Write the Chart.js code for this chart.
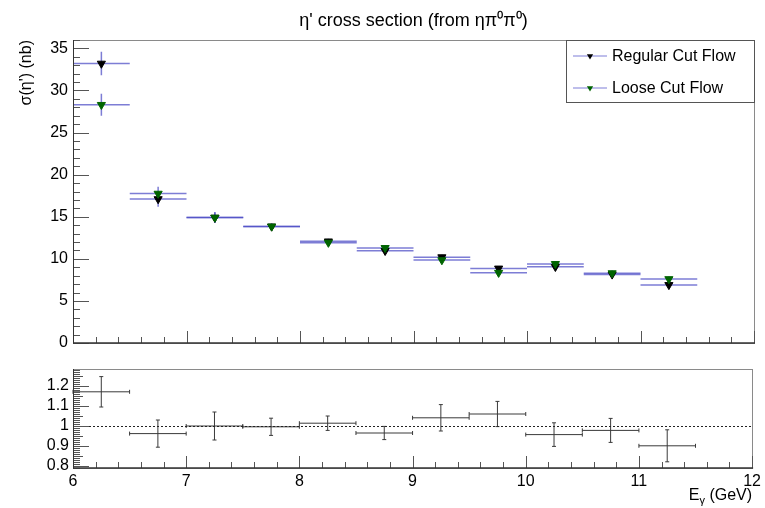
<!DOCTYPE html>
<html>
<head>
<meta charset="utf-8">
<script src="https://cdn.jsdelivr.net/npm/chart.js@4.4.1/dist/chart.umd.min.js"></script>
<style>
  body { margin: 0; background: #fff; }
  #wrap { position: relative; width: 765px; height: 508px; }
  canvas { position: absolute; left: 0; }
</style>
</head>
<body>
<div id="wrap">
  <canvas id="top" width="765" height="355" style="top:0"></canvas>
  <canvas id="bottom" width="765" height="153" style="top:355px"></canvas>
</div>
<script>
// ---------- DATA ----------
const binCenters = [6.25, 6.75, 7.25, 7.75, 8.25, 8.75, 9.25, 9.75, 10.25, 10.75, 11.25];
const binHalfWidth = 0.25;

const regularXsec = [33.2, 17.1, 14.9, 13.85, 12.08, 10.95, 10.2, 8.86, 9.05, 8.15, 6.9];
const regularErr  = [1.4, 0.9, 0.65, 0.35, 0.3, 0.3, 0.3, 0.3, 0.3, 0.3, 0.3];
const looseXsec   = [28.3, 17.75, 14.9, 13.85, 11.92, 11.3, 9.85, 8.35, 9.4, 8.3, 7.6];
const looseErr    = [1.3, 0.8, 0.6, 0.35, 0.3, 0.3, 0.3, 0.3, 0.3, 0.3, 0.3];

const ratio    = [1.171, 0.962, 1.0, 0.996, 1.014, 0.965, 1.041, 1.06, 0.957, 0.978, 0.901];
const ratioErr = [0.076, 0.068, 0.07, 0.043, 0.036, 0.033, 0.066, 0.063, 0.059, 0.06, 0.08];

const seriesLabels = ["Regular Cut Flow", "Loose Cut Flow"];
const plotTitle = "η' cross section (from ηπ⁰π⁰)";
const yTitleTop = "σ(η') (nb)";

const FONT = "'Liberation Sans', Arial, Helvetica, sans-serif";
Chart.defaults.font.family = FONT;
Chart.defaults.color = "#000";

function pts(y) {
  return binCenters.map((x, i) => ({ x: x, y: y[i] }));
}

// ---------- PLUGINS ----------
// x / y error bars drawn through the chart scales
const errorBars = {
  id: "errorBars",
  beforeDatasetsDraw(chart) {
    const ctx = chart.ctx, xs = chart.scales.x, ys = chart.scales.y;
    chart.data.datasets.forEach(ds => {
      if (!ds.yErr) return;
      ctx.save();
      ctx.strokeStyle = ds.errColor;
      ctx.lineWidth = ds.errWidth;
      ds.data.forEach((p, i) => {
        const x0 = xs.getPixelForValue(p.x - ds.xErr);
        const x1 = xs.getPixelForValue(p.x + ds.xErr);
        const xc = xs.getPixelForValue(p.x);
        const yc = ys.getPixelForValue(p.y);
        const y0 = ys.getPixelForValue(p.y - ds.yErr[i]);
        const y1 = ys.getPixelForValue(p.y + ds.yErr[i]);
        ctx.beginPath();
        ctx.moveTo(x0, yc); ctx.lineTo(x1, yc);
        ctx.moveTo(xc, y0); ctx.lineTo(xc, y1);
        if (ds.errCap) {
          const c = ds.errCap;
          ctx.moveTo(x0, yc - c); ctx.lineTo(x0, yc + c);
          ctx.moveTo(x1, yc - c); ctx.lineTo(x1, yc + c);
          ctx.moveTo(xc - c, y0); ctx.lineTo(xc + c, y0);
          ctx.moveTo(xc - c, y1); ctx.lineTo(xc + c, y1);
        }
        ctx.stroke();
      });
      ctx.restore();
    });
  }
};

// ROOT-like frame with inward ticks
const rootFrame = {
  id: "rootFrame",
  beforeDatasetsDraw(chart, args, o) {
    const ctx = chart.ctx, a = chart.chartArea;
    const x = chart.scales.x, y = chart.scales.y;
    ctx.save();
    if (o.refLine !== undefined) {
      const yy = Math.round(y.getPixelForValue(o.refLine)) + 0.5;
      ctx.strokeStyle = "#222";
      ctx.lineWidth = 1;
      ctx.setLineDash([2, 2]);
      ctx.beginPath();
      ctx.moveTo(a.left, yy); ctx.lineTo(a.right, yy);
      ctx.stroke();
      ctx.setLineDash([]);
    }
    ctx.strokeStyle = "#8a8a8a";
    ctx.lineWidth = 1;
    ctx.strokeRect(Math.round(a.left) + 0.5, Math.round(a.top) + 0.5,
                   Math.round(a.right - a.left), Math.round(a.bottom - a.top));

    ctx.strokeStyle = "#555";
    ctx.beginPath();
    // y ticks
    const n0 = Math.ceil(y.min / o.yMinor - 1e-6), n1 = Math.floor(y.max / o.yMinor + 1e-6);
    for (let n = n0; n <= n1; n++) {
      const v = n * o.yMinor;
      const r = v / o.yMajor;
      const major = Math.abs(r - Math.round(r)) < 1e-6;
      const mid = o.yMid && Math.abs(v / o.yMid - Math.round(v / o.yMid)) < 1e-6;
      const len = major ? 16 : (mid ? 10 : 7);
      const py = Math.round(y.getPixelForValue(v)) + 0.5;
      ctx.moveTo(a.left, py); ctx.lineTo(a.left + len, py);
    }
    // x ticks
    const m0 = Math.ceil(x.min / o.xMinor - 1e-6), m1 = Math.floor(x.max / o.xMinor + 1e-6);
    for (let n = m0; n <= m1; n++) {
      const v = n * o.xMinor;
      const r = v / o.xMajor;
      const major = Math.abs(r - Math.round(r)) < 1e-6;
      const len = major ? 12 : 6;
      const px = Math.round(x.getPixelForValue(v)) + 0.5;
      ctx.moveTo(px, a.bottom); ctx.lineTo(px, a.bottom - len);
    }
    ctx.stroke();

    ctx.strokeStyle = "#333";
    ctx.beginPath();
    ctx.moveTo(Math.round(a.left) + 0.5, a.top); ctx.lineTo(Math.round(a.left) + 0.5, a.bottom);
    ctx.stroke();
    ctx.lineWidth = 1.6;
    ctx.beginPath();
    ctx.moveTo(a.left, Math.round(a.bottom)); ctx.lineTo(a.right + 1, Math.round(a.bottom));
    ctx.stroke();
    ctx.restore();
  }
};

// axis titles (ROOT puts them at the far end of the axis)
const axisTitles = {
  id: "axisTitles",
  afterDraw(chart, args, o) {
    const ctx = chart.ctx, a = chart.chartArea;
    ctx.save();
    ctx.fillStyle = "#000";
    if (o.yText) {
      ctx.translate(o.yPos, a.top);
      ctx.rotate(-Math.PI / 2);
      ctx.font = "16px " + FONT;
      ctx.textAlign = "right";
      ctx.textBaseline = "middle";
      ctx.fillText(o.yText, 0, 0);
    }
    if (o.xMain) {
      ctx.textBaseline = "alphabetic";
      ctx.textAlign = "left";
      ctx.font = "16px " + FONT;
      const wMain = ctx.measureText(o.xMain).width;
      const wRest = ctx.measureText(o.xRest).width;
      ctx.font = "11px " + FONT;
      const wSub = ctx.measureText(o.xSub).width;
      let px = a.right - wMain - wSub - wRest;
      const base = o.xBase;
      ctx.font = "16px " + FONT;
      ctx.fillText(o.xMain, px, base);
      px += wMain;
      ctx.font = "11px " + FONT;
      ctx.fillText(o.xSub, px, base + 4);
      px += wSub;
      ctx.font = "16px " + FONT;
      ctx.fillText(o.xRest, px, base);
    }
    ctx.restore();
  }
};

// boxed legend in the top right corner of the frame
const boxLegend = {
  id: "boxLegend",
  afterDraw(chart, args, o) {
    const ctx = chart.ctx, a = chart.chartArea;
    const left = a.right - o.width, top = a.top;
    ctx.save();
    ctx.fillStyle = "#fff";
    ctx.fillRect(left, top, o.width, o.height);
    ctx.strokeStyle = "#555";
    ctx.lineWidth = 1;
    ctx.strokeRect(Math.round(left) + 0.5, Math.round(top) + 0.5, Math.round(o.width), Math.round(o.height));
    chart.data.datasets.forEach((ds, i) => {
      const yy = top + o.firstRow + i * o.rowGap;
      ctx.strokeStyle = "rgba(110,110,210,0.6)";
      ctx.lineWidth = 1.5;
      ctx.beginPath();
      ctx.moveTo(left + 7, yy); ctx.lineTo(left + 41, yy);
      ctx.stroke();
      ctx.fillStyle = ds.backgroundColor;
      ctx.strokeStyle = ds.borderColor;
      ctx.lineWidth = 1;
      Chart.helpers.drawPoint(ctx, { pointStyle: "triangle", rotation: 180, radius: 3.6 }, left + 24, yy);
      ctx.fillStyle = "#000";
      ctx.font = "16px " + FONT;
      ctx.textBaseline = "middle";
      ctx.textAlign = "left";
      ctx.fillText(ds.label, left + 46, yy + 1);
    });
    ctx.restore();
  }
};

const noGrid = { display: false, drawTicks: false };
// keep tick-label overflow from shrinking the frame
const fixY = w => s => { s.width = w; s.paddingTop = 0; s.paddingBottom = 0; };

// ---------- TOP PANEL ----------
new Chart(document.getElementById("top"), {
  type: "scatter",
  data: {
    datasets: [
      {
        label: seriesLabels[0],
        data: pts(regularXsec),
        xErr: binHalfWidth,
        yErr: regularErr,
        errColor: "rgba(70,70,195,0.7)",
        errWidth: 1.5,
        pointStyle: "triangle",
        rotation: 180,
        pointRadius: 4.7,
        backgroundColor: "#000",
        borderColor: "#000",
        borderWidth: 1,
        order: 1
      },
      {
        label: seriesLabels[1],
        data: pts(looseXsec),
        xErr: binHalfWidth,
        yErr: looseErr,
        errColor: "rgba(70,70,195,0.7)",
        errWidth: 1.5,
        pointStyle: "triangle",
        rotation: 180,
        pointRadius: 4.7,
        backgroundColor: "#006400",
        borderColor: "#006400",
        borderWidth: 1,
        order: 0
      }
    ]
  },
  options: {
    responsive: false,
    animation: false,
    devicePixelRatio: 1,
    layout: { padding: { left: 0, right: 11, top: 0, bottom: 0 } },
    scales: {
      x: {
        type: "linear", min: 6, max: 12,
        grid: noGrid, border: { display: false },
        ticks: { display: false },
        afterFit: s => { s.height = 12; }
      },
      y: {
        type: "linear", min: 0, max: 36,
        grid: noGrid, border: { display: false },
        ticks: { stepSize: 5, includeBounds: false, padding: 5, font: { size: 16 } },
        afterFit: fixY(73)
      }
    },
    plugins: {
      legend: { display: false },
      tooltip: { enabled: false },
      title: {
        display: true, text: plotTitle, fullSize: false,
        font: { size: 18, weight: "normal" },
        padding: { top: 10, bottom: 8.4 }
      },
      rootFrame: { yMajor: 5, yMinor: 1, xMajor: 1, xMinor: 0.2 },
      axisTitles: { yText: yTitleTop, yPos: 27 },
      boxLegend: { width: 188, height: 62, firstRow: 16, rowGap: 32 }
    }
  },
  plugins: [errorBars, rootFrame, axisTitles, boxLegend]
});

// ---------- RATIO PANEL ----------
new Chart(document.getElementById("bottom"), {
  type: "scatter",
  data: {
    datasets: [
      {
        label: "Ratio",
        data: pts(ratio),
        xErr: binHalfWidth,
        yErr: ratioErr,
        errColor: "#3a3a3a",
        errWidth: 1,
        errCap: 2,
        pointRadius: 0
      }
    ]
  },
  options: {
    responsive: false,
    animation: false,
    devicePixelRatio: 1,
    layout: { padding: { left: 0, right: 11, top: 14, bottom: 0 } },
    scales: {
      x: {
        type: "linear", min: 6, max: 12,
        grid: noGrid, border: { display: false },
        ticks: { stepSize: 1, padding: 4, font: { size: 16 } },
        afterFit: s => { s.height = 40; }
      },
      y: {
        type: "linear", min: 0.79, max: 1.285,
        grid: noGrid, border: { display: false },
        ticks: {
          stepSize: 0.1, includeBounds: false, padding: 4, font: { size: 16 },
          callback: v => String(Number(v.toFixed(2)))
        },
        afterFit: fixY(73)
      }
    },
    plugins: {
      legend: { display: false },
      tooltip: { enabled: false },
      rootFrame: { yMajor: 0.1, yMinor: 0.01, yMid: 0.05, xMajor: 1, xMinor: 0.2, refLine: 1 },
      axisTitles: { xMain: "E", xSub: "γ", xRest: " (GeV)", xBase: 145 }
    }
  },
  plugins: [errorBars, rootFrame, axisTitles]
});
</script>
</body>
</html>
